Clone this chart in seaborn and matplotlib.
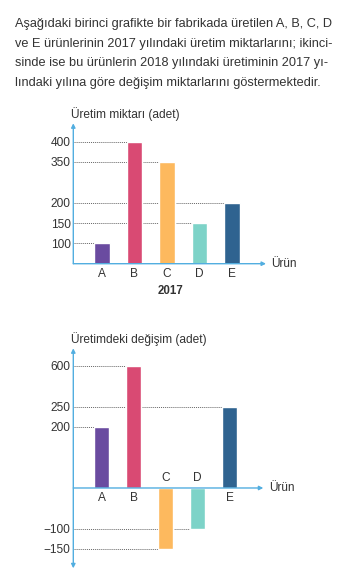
import numpy as np
import pandas as pd
import matplotlib
matplotlib.use("Agg")
import matplotlib.pyplot as plt
import seaborn as sns

# ---- data ----
products = ["A", "B", "C", "D", "E"]
production_2017 = [100, 400, 350, 150, 200]
change_2018 = [200, 600, -150, -100, 250]
colors = ["#6a4ba0", "#d94a73", "#fdb95e", "#7dd3c8", "#2f6390"]
top_ticks = [100, 150, 200, 350, 400]
bottom_ticks = [-150, -100, 200, 250, 600]

intro = ("Aşağıdaki birinci grafikte bir fabrikada üretilen A, B, C, D\n"
         "ve E ürünlerinin 2017 yılındaki üretim miktarlarını; ikinci-\n"
         "sinde ise bu ürünlerin 2018 yılındaki üretiminin 2017 yı-\n"
         "lındaki yılına göre değişim miktarlarını göstermektedir.")
top_ylabel = "Üretim miktarı (adet)"
bottom_ylabel = "Üretimdeki değişim (adet)"
xlabel = "Ürün"
top_title = "2017"

sns.set_theme(style="white")
plt.rcParams["font.family"] = ["Liberation Sans", "DejaVu Sans"]

W, H = 348, 581
fig = plt.figure(figsize=(W / 100, H / 100), dpi=100)
fig.patch.set_facecolor("white")

TXT = "#333333"
AX = "#52aee0"
GRID = "#666666"
BW = 0.48
XL = (-0.88, 5.05)


def make_scale(vals, units):
    vals = np.asarray(vals, float)
    units = np.asarray(units, float)

    def fwd(v):
        return np.interp(v, vals, units)

    def inv(u):
        return np.interp(u, units, vals)
    return fwd, inv


def px_axes(left, right, top, bottom):
    return fig.add_axes([left / W, (H - bottom) / H, (right - left) / W, (bottom - top) / H])


fig.text(15 / W, 1 - 18 / H, intro, ha="left", va="top", fontsize=9.2,
         color=TXT, linespacing=1.85)


def draw(ax, values, ticks, fwd, inv, ulim, ylabel, both_arrows, labels_by_sign):
    df = pd.DataFrame({"product": products, "value": values})
    ax.set_yscale("function", functions=(fwd, inv))
    sns.barplot(data=df, x="product", y="value", hue="product", palette=colors,
                width=BW, legend=False, ax=ax, zorder=3, saturation=1)
    ax.set_xlim(*XL)
    ax.set_ylim(inv(ulim[0]), inv(ulim[1]))
    ax.set_yticks(ticks)
    ax.set_yticklabels([str(t).replace("-", "\u2212") for t in ticks])
    ax.tick_params(axis="y", length=0, pad=2, labelsize=8.6, labelcolor=TXT)
    ax.minorticks_off()
    ax.set_xlabel("")
    ax.set_ylabel("")
    for s in ax.spines.values():
        s.set_visible(False)
    ax.set_facecolor("none")
    # dotted reference lines from axis to bar
    for i, v in enumerate(values):
        ax.hlines(v, XL[0], i - BW / 2, colors=GRID, linestyles=(0, (1, 1)),
                  linewidth=0.7, zorder=1)
    # axes with arrows
    ax.annotate("", xy=(1, 0), xycoords=ax.get_yaxis_transform(),
                xytext=(0, 0), textcoords=ax.get_yaxis_transform(),
                arrowprops=dict(arrowstyle="-|>", color=AX, lw=1.0,
                                mutation_scale=6, shrinkA=0, shrinkB=0), zorder=4)
    if both_arrows:
        ax.annotate("", xy=(0, 0), xycoords="axes fraction",
                    xytext=(0, 1), textcoords="axes fraction",
                    arrowprops=dict(arrowstyle="<|-|>", color=AX, lw=1.0,
                                    mutation_scale=6, shrinkA=0, shrinkB=0), zorder=4)
    else:
        ax.annotate("", xy=(0, 1), xycoords="axes fraction",
                    xytext=(0, 0), textcoords="axes fraction",
                    arrowprops=dict(arrowstyle="-|>", color=AX, lw=1.0,
                                    mutation_scale=6, shrinkA=0, shrinkB=0), zorder=4)
    ax.set_xticks([])
    for i, (p, v) in enumerate(zip(products, values)):
        if labels_by_sign and v < 0:
            ax.annotate(p, xy=(i, 0), xytext=(0, 3), textcoords="offset points",
                        ha="center", va="bottom", fontsize=8.6, color=TXT)
        else:
            ax.annotate(p, xy=(i, 0), xytext=(0, -3), textcoords="offset points",
                        ha="center", va="top", fontsize=8.6, color=TXT)
    ax.annotate(xlabel, xy=(1, 0), xycoords=ax.get_yaxis_transform(),
                xytext=(4, 0), textcoords="offset points", ha="left", va="center",
                fontsize=8.6, color=TXT)
    ax.annotate(ylabel, xy=(0, 1), xycoords="axes fraction", xytext=(-2, 2),
                textcoords="offset points", ha="left", va="bottom",
                fontsize=8.6, color=TXT)


# top chart
fwd1, inv1 = make_scale([-100, 0, 100, 150, 200, 350, 400, 800],
                        [-1, 0, 1, 2, 3, 5, 6, 10])
ax1 = px_axes(73.3, 266, 123.3, 263.7)
draw(ax1, production_2017, top_ticks, fwd1, inv1, (0, 6.9), top_ylabel, False, False)
ax1.annotate(top_title, xy=(170 / W, 1 - 291 / H), xycoords="figure fraction",
             ha="center", va="center", fontsize=8.3, fontweight="bold", color=TXT)

# bottom chart
fwd2, inv2 = make_scale([-400, -150, -100, 0, 200, 250, 600, 1000],
                        [-7, -3, -2, 0, 3, 4, 6, 8])
ax2 = px_axes(73.3, 263.3, 348.3, 568.3)
draw(ax2, change_2018, bottom_ticks, fwd2, inv2, (-3.95, 6.87), bottom_ylabel, True, True)

fig.savefig("out.png", dpi=100, facecolor="white")
